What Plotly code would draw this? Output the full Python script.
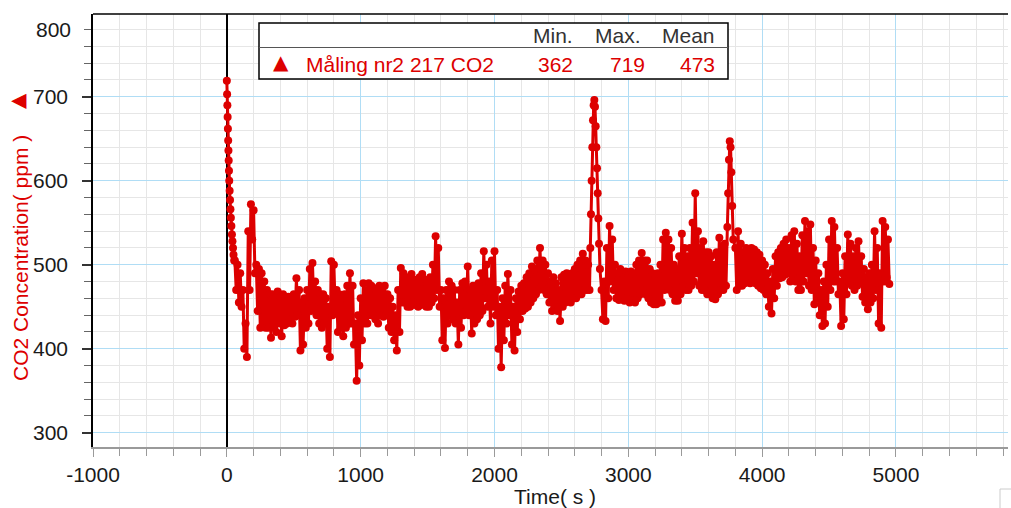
import plotly.graph_objects as go

# ---------------- data ----------------
# initial decay right after t = 0
start_time = [0, 2, 4, 6, 8, 10, 12, 14, 16, 18, 21, 24, 27, 30, 34, 38, 42, 46, 50, 55]
start_co2 = [719, 703, 690, 676, 662, 648, 636, 624, 612, 600, 588, 577, 566, 556, 546, 536, 528, 520, 512, 505]

# The signal is a fast-fluctuating band; it is recorded here as pairs of
# readings every 20 s: an upper reading followed 10 s later by a lower reading.
# segment 1: 60 s .. 2700 s
seg1_high = [
    505, 500, 490, 470, 430, 540, 572, 565, 500, 495,
    490, 480, 470, 465, 465, 460, 468, 462, 465, 460,
    462, 458, 465, 484, 470, 455, 460, 470, 495, 502,
    480, 470, 465, 465, 460, 450, 504, 500, 470, 465,
    460, 465, 475, 490, 475, 430, 440, 460, 478, 470,
    478, 475, 472, 470, 475, 472, 475, 465, 460, 450,
    440, 470, 496, 490, 485, 480, 489, 482, 478, 485,
    489, 482, 478, 485, 500, 534, 520, 470, 460, 470,
    480, 475, 470, 455, 470, 478, 480, 498, 470, 475,
    470, 478, 490, 516, 500, 480, 505, 516, 470, 450,
    460, 475, 489, 470, 450, 460, 468, 475, 478, 485,
    490, 498, 495, 505, 520, 505, 500, 490, 480, 485,
    478, 470, 485, 488, 490, 485, 490, 495, 500, 505,
    513, 505, 500,
]
seg1_low = [
    470, 455, 450, 400, 390, 470, 530, 490, 445, 425,
    430, 425, 425, 413, 425, 420, 430, 415, 428, 430,
    435, 430, 438, 440, 398, 405, 425, 430, 445, 450,
    440, 430, 425, 430, 400, 390, 440, 445, 420, 425,
    415, 425, 430, 430, 405, 362, 380, 410, 430, 430,
    440, 440, 435, 430, 440, 438, 440, 425, 420, 410,
    398, 420, 455, 455, 450, 450, 455, 452, 450, 452,
    455, 450, 450, 455, 460, 470, 450, 410, 401, 430,
    440, 435, 430, 405, 425, 440, 445, 440, 418, 430,
    435, 440, 445, 460, 450, 430, 450, 440, 400, 378,
    410, 430, 440, 405, 398, 420, 435, 445, 448, 450,
    455, 460, 465, 470, 475, 470, 465, 455, 445, 450,
    445, 433, 450, 455, 458, 455, 460, 460, 465, 465,
    470, 470, 470,
]

spike1_time = [2716, 2721, 2726, 2731, 2736, 2741, 2746, 2751, 2756, 2761, 2766, 2771, 2776, 2781, 2788]
spike1_co2 = [520, 560, 600, 640, 672, 690, 696, 688, 665, 640, 615, 585, 555, 525, 495]

# segment 2: 2800 s .. 3720 s
seg2_high = [
    470, 480, 520, 546, 530, 500, 490, 495, 490, 492,
    488, 492, 490, 500, 505, 514, 505, 505, 495, 490,
    488, 490, 500, 530, 538, 530, 520, 500, 495, 510,
    537, 520, 510, 520, 550, 585, 540, 520, 528, 515,
    515, 510, 500, 515, 532, 520, 525,
]
seg2_low = [
    435, 433, 460, 480, 470, 460, 458, 460, 457, 460,
    455, 458, 455, 460, 465, 470, 465, 460, 455, 453,
    453, 455, 455, 470, 475, 470, 465, 457, 457, 465,
    475, 470, 470, 475, 480, 490, 475, 470, 470, 465,
    465, 460, 459, 465, 470, 470, 475,
]

spike2_time = [3740, 3746, 3752, 3758, 3764, 3770, 3776, 3784]
spike2_co2 = [545, 585, 625, 647, 640, 610, 570, 530]

# segment 3: 3800 s .. 4940 s
seg3_high = [
    520, 540, 525, 515, 520, 515, 520, 518, 515, 512,
    505, 500, 490, 480, 495, 510, 515, 520, 525, 530,
    520, 535, 540, 525, 510, 535, 552, 540, 548, 520,
    505, 490, 470, 480, 500, 530, 552, 545, 520, 480,
    490, 510, 536, 525, 510, 520, 528, 510, 495, 485,
    490, 500, 540, 520, 490, 552, 545, 530,
]
seg3_low = [
    470, 475, 475, 478, 480, 478, 480, 478, 475, 472,
    470, 465, 450, 442, 460, 475, 484, 485, 488, 490,
    480, 485, 480, 470, 470, 480, 490, 475, 470, 453,
    460, 440, 427, 430, 450, 470, 480, 480, 465, 427,
    435, 465, 480, 475, 470, 475, 480, 462, 455, 447,
    455, 460, 470, 430, 425, 480, 485, 477,
]

series_name = "Måling nr2 217 CO2"
stat_headers = ["Min.", "Max.", "Mean"]
stat_values = ["362", "719", "473"]

x_ticks = [-1000, 0, 1000, 2000, 3000, 4000, 5000]
y_ticks = [300, 400, 500, 600, 700]


# ---------------- assemble ----------------
def interleave(high, low):
    out = []
    for h, l in zip(high, low):
        out += [h, l]
    return out


seg1 = interleave(seg1_high, seg1_low)
seg2 = interleave(seg2_high, seg2_low)
seg3 = interleave(seg3_high, seg3_low)

time_s = (start_time
          + [60 + 10 * i for i in range(len(seg1))]
          + spike1_time
          + [2800 + 10 * i for i in range(len(seg2))]
          + spike2_time
          + [3800 + 10 * i for i in range(len(seg3))])
co2 = start_co2 + seg1 + spike1_co2 + seg2 + spike2_co2 + seg3

RED = "#dd0000"
TXT = "#1a1a1a"
BLUE = "#b0ddf5"
GREY = "#e6e6e6"
FONT = "Liberation Sans, Arial, sans-serif"

W, H = 1011, 508
L, R, T, B = 93, 3, 14, 61
pw, ph = W - L - R, H - T - B


def px(x):
    return (x - L) / pw


def py(y):
    return (H - B - y) / ph


fig = go.Figure()
fig.add_trace(go.Scatter(
    x=time_s, y=co2, mode="lines+markers",
    line=dict(color=RED, width=3),
    marker=dict(color=RED, size=8, symbol="circle"),
    showlegend=False, hoverinfo="x+y",
))

fig.update_layout(
    width=W, height=H,
    margin=dict(l=L, r=R, t=T, b=B, pad=0),
    paper_bgcolor="white", plot_bgcolor="white",
    font=dict(family=FONT, size=21, color=TXT),
    showlegend=False,
    xaxis=dict(
        range=[-1000, 5837], tickmode="array", tickvals=x_ticks,
        ticktext=[str(v) for v in x_ticks],
        showgrid=True, gridcolor=BLUE, gridwidth=1,
        zeroline=True, zerolinecolor="black", zerolinewidth=1.5,
        showline=True, linecolor="#9a9a9a", linewidth=1.5,
        ticks="outside", ticklen=8, tickcolor="#9a9a9a", tickwidth=1.2,
        tickfont=dict(size=21, color=TXT),
        minor=dict(dtick=200, tick0=0, showgrid=True, gridcolor=GREY, gridwidth=1,
                   ticks="outside", ticklen=7, tickcolor="#9a9a9a", tickwidth=1.2),
    ),
    yaxis=dict(
        range=[283, 798.5], tickmode="array", tickvals=y_ticks,
        ticktext=[str(v) for v in y_ticks],
        showgrid=True, gridcolor=BLUE, gridwidth=1,
        zeroline=False,
        showline=True, linecolor="black", linewidth=1.5,
        ticks="outside", ticklen=9, tickcolor="#333333", tickwidth=1.5,
        tickfont=dict(size=21, color=TXT),
        ticklabelstandoff=10,
        minor=dict(dtick=20, tick0=0, showgrid=True, gridcolor=GREY, gridwidth=1,
                   ticks="outside", ticklen=7, tickcolor="#666666", tickwidth=1.2),
    ),
)

shapes = [
    dict(type="line", xref="paper", yref="paper", x0=0, x1=1, y0=1, y1=1,
         line=dict(color="black", width=1.5)),
    dict(type="rect", xref="paper", yref="paper",
         x0=px(259), x1=px(728), y0=py(79), y1=py(23),
         fillcolor="white", line=dict(color="black", width=1.5), layer="above"),
    dict(type="line", xref="paper", yref="paper",
         x0=px(259), x1=px(728), y0=py(47.5), y1=py(47.5),
         line=dict(color="#555555", width=1), layer="above"),
    dict(type="rect", xref="paper", yref="paper",
         x0=px(1000), x1=px(1013), y0=py(510), y1=py(489),
         line=dict(color="#cccccc", width=1)),
]
fig.update_layout(shapes=shapes)

ann = []
for txt, xr in zip(stat_headers, [575, 643, 717]):
    ann.append(dict(text=txt, xref="paper", yref="paper", x=px(xr), y=py(36),
                    xanchor="right", yanchor="middle", showarrow=False,
                    font=dict(size=21, color="#333333")))
ann.append(dict(text="▲", xref="paper", yref="paper", x=px(281), y=py(62),
                xanchor="center", yanchor="middle", showarrow=False,
                font=dict(size=20, color=RED, family="DejaVu Sans")))
ann.append(dict(text=series_name, xref="paper", yref="paper", x=px(304), y=py(64),
                xanchor="left", yanchor="middle", showarrow=False,
                font=dict(size=21, color=RED)))
for txt, xr in zip(stat_values, [575, 647, 717]):
    ann.append(dict(text=txt, xref="paper", yref="paper", x=px(xr), y=py(64),
                    xanchor="right", yanchor="middle", showarrow=False,
                    font=dict(size=21, color=RED)))
ann.append(dict(text="800", xref="paper", yref="y", x=px(73), y=780,
                xanchor="right", yanchor="middle", showarrow=False,
                font=dict(size=21, color=TXT)))
ann.append(dict(text="CO2 Concentration( ppm )", xref="paper", yref="paper",
                x=px(20), y=py(258), textangle=-90, xanchor="center", yanchor="middle",
                showarrow=False, font=dict(size=21, color=RED)))
ann.append(dict(text="▲", xref="paper", yref="paper", x=px(17), y=py(101),
                textangle=-90, xanchor="center", yanchor="middle", showarrow=False,
                font=dict(size=20, color=RED, family="DejaVu Sans")))
ann.append(dict(text="Time( s )", xref="paper", yref="paper", x=px(555), y=py(496),
                xanchor="center", yanchor="middle", showarrow=False,
                font=dict(size=21, color=TXT)))
fig.update_layout(annotations=ann)

fig.write_html("out.html")
